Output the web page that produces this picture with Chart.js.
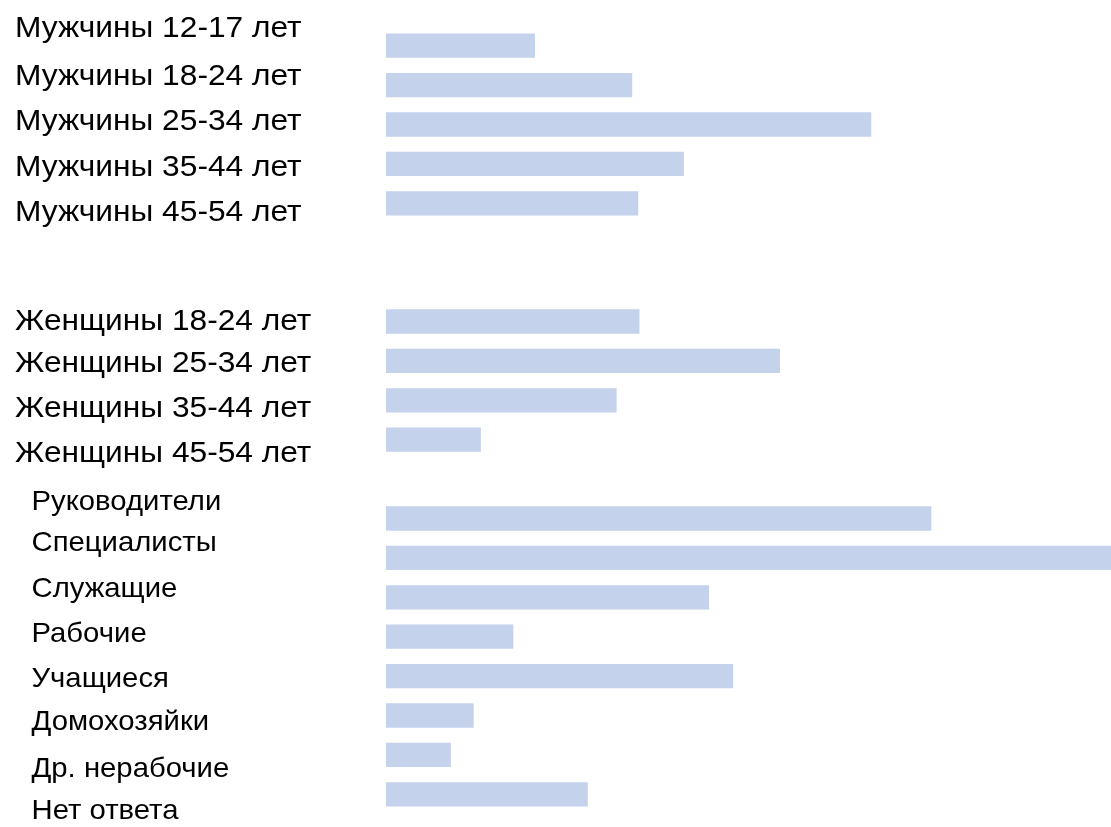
<!DOCTYPE html>
<html>
<head>
<meta charset="utf-8">
<script src="https://cdn.jsdelivr.net/npm/chart.js@4/dist/chart.umd.min.js"></script>
<style>
  html, body { margin: 0; padding: 0; background: #ffffff; }
  #wrap { position: relative; width: 1111px; height: 827px; }
</style>
</head>
<body>
<div id="wrap"><canvas id="c"></canvas></div>
<script>
// ---- data (share of audience, %) ----
const menLabels = ['Мужчины 12-17 лет', 'Мужчины 18-24 лет', 'Мужчины 25-34 лет', 'Мужчины 35-44 лет', 'Мужчины 45-54 лет'];
const menValues = [6.2, 10.25, 20.2, 12.4, 10.5];

const womenLabels = ['Женщины 18-24 лет', 'Женщины 25-34 лет', 'Женщины 35-44 лет', 'Женщины 45-54 лет'];
const womenValues = [10.55, 16.4, 9.6, 3.95];

const occLabels = ['Руководители', 'Специалисты', 'Служащие', 'Рабочие', 'Учащиеся', 'Домохозяйки', 'Др. нерабочие', 'Нет ответа'];
const occValues = [22.7, 30.8, 13.45, 5.3, 14.45, 3.65, 2.7, 8.4];

// ---- layout (not data) ----
const GAP_AFTER_MEN = 2;
const GAP_AFTER_WOMEN = 1;
// vertical shift of each text label relative to its bar, in category slots
const MEN_LABEL_SHIFT = [-0.505, -0.28, -0.126, 0.03, 0.185];
const WOMEN_LABEL_SHIFT = [-0.06, 0.0, 0.15, 0.29];
const OCC_LABEL_SHIFT = [-0.48, -0.42, -0.26, -0.12, 0.02, 0.11, 0.32, 0.38];

// build the category axis (with empty slots separating the groups)
const categories = [];
const values = [];
const textItems = []; // {index, text, group, shift}
function addGroup(labels, vals, group, shifts) {
  labels.forEach((l, i) => {
    textItems.push({ index: categories.length, text: l, group, shift: shifts[i] });
    categories.push(l);
    values.push(vals[i]);
  });
}
function addGap(n) { for (let k = 0; k < n; k++) { categories.push(' '.repeat(categories.length + 1)); values.push(null); } }

addGroup(menLabels, menValues, 'big', MEN_LABEL_SHIFT);
addGap(GAP_AFTER_MEN);
addGroup(womenLabels, womenValues, 'big', WOMEN_LABEL_SHIFT);
addGap(GAP_AFTER_WOMEN);
addGroup(occLabels, occValues, 'small', OCC_LABEL_SHIFT);

const groupStyle = {
  big:   { x: 15, size: 30.2 },
  small: { x: 31.5, size: 27.9 }
};
const TEXT_STRETCH = 1.05;

const sideLabels = {
  id: 'sideLabels',
  afterDraw(chart) {
    const ctx = chart.ctx;
    const y = chart.scales.y;
    textItems.forEach(item => {
      const st = groupStyle[item.group];
      const cy = y.getPixelForValue(item.index + item.shift);
      ctx.save();
      ctx.fillStyle = '#000000';
      ctx.textAlign = 'left';
      ctx.textBaseline = 'alphabetic';
      ctx.font = st.size + 'px "Liberation Sans", Arial, sans-serif';
      ctx.translate(st.x, cy + 0.358 * st.size);
      ctx.scale(TEXT_STRETCH, 1);
      ctx.fillText(item.text, 0, 0);
      ctx.restore();
    });
  }
};

new Chart(document.getElementById('c'), {
  type: 'bar',
  data: {
    labels: categories,
    datasets: [{
      data: values,
      backgroundColor: '#c4d2ec',
      borderWidth: 0,
      barPercentage: 0.617,
      categoryPercentage: 1.0
    }]
  },
  options: {
    indexAxis: 'y',
    responsive: true,
    maintainAspectRatio: false,
    animation: false,
    layout: { padding: { left: 386, right: 0, top: 26, bottom: 13 } },
    plugins: { legend: { display: false }, tooltip: { enabled: false } },
    scales: {
      x: { display: false, min: 0, max: 30.18 },
      y: { display: false }
    }
  },
  plugins: [sideLabels]
});
</script>
</body>
</html>
